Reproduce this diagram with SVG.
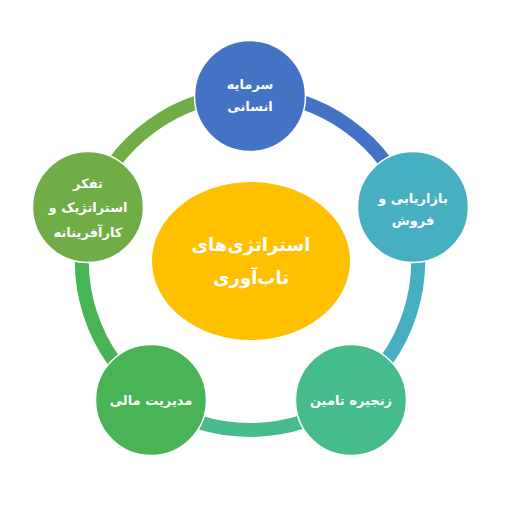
<svg xmlns="http://www.w3.org/2000/svg" width="511" height="531" viewBox="0 0 511 531">
<style>
.arc{fill:none;stroke-width:14;stroke-linecap:butt}
.node{stroke:#ffffff;stroke-width:1.5}
.lbl{font-family:"DejaVu Sans",sans-serif;font-size:13px;font-weight:bold;fill:#ffffff;text-anchor:middle;direction:rtl}
.ctr{font-family:"DejaVu Sans",sans-serif;font-size:18px;font-weight:bold;fill:#ffffff;text-anchor:middle;direction:rtl}
</style>
<rect width="511" height="531" fill="#ffffff"/>
<g id="connectors">
<path class="arc" stroke="#4472C4" d="M250 94 A168 168 0 0 1 409.2 208.4"/>
<path class="arc" stroke="#46AFC2" d="M409.2 208.4 A168 168 0 0 1 348.7 397.9"/>
<path class="arc" stroke="#46BB8C" d="M348.7 397.9 A168 168 0 0 1 151.3 397.9"/>
<path class="arc" stroke="#49B455" d="M151.3 397.9 A168 168 0 0 1 90.8 208.4"/>
<path class="arc" stroke="#70AD47" d="M90.8 208.4 A168 168 0 0 1 250 94"/>
</g>
<g id="center">
<ellipse cx="251" cy="261" rx="99" ry="79" fill="#FFC000"/>
<text class="ctr" x="251" y="251">استراتژی&#x200C;های</text>
<text class="ctr" x="251" y="284">تاب&#x200C;آوری</text>
</g>
<g id="node-top">
<circle class="node" cx="250" cy="96" r="55.5" fill="#4472C4"/>
<text class="lbl" x="250" y="89">سرمایه</text>
<text class="lbl" x="250" y="111">انسانی</text>
</g>
<g id="node-right">
<circle class="node" cx="413" cy="207" r="55.5" fill="#46AFC2"/>
<text class="lbl" x="413" y="203">بازاریابی و</text>
<text class="lbl" x="413" y="225">فروش</text>
</g>
<g id="node-bottom-right">
<circle class="node" cx="351" cy="400" r="55.5" fill="#46BB8C"/>
<text class="lbl" x="351" y="405">زنجیره تامین</text>
</g>
<g id="node-bottom-left">
<circle class="node" cx="151" cy="400" r="55.5" fill="#49B455"/>
<text class="lbl" x="151" y="405">مدیریت مالی</text>
</g>
<g id="node-left">
<circle class="node" cx="88" cy="207" r="55.5" fill="#70AD47"/>
<text class="lbl" x="88" y="188">تفکر</text>
<text class="lbl" x="88" y="212">استراتژیک و</text>
<text class="lbl" x="88" y="237">کارآفرینانه</text>
</g>
</svg>
